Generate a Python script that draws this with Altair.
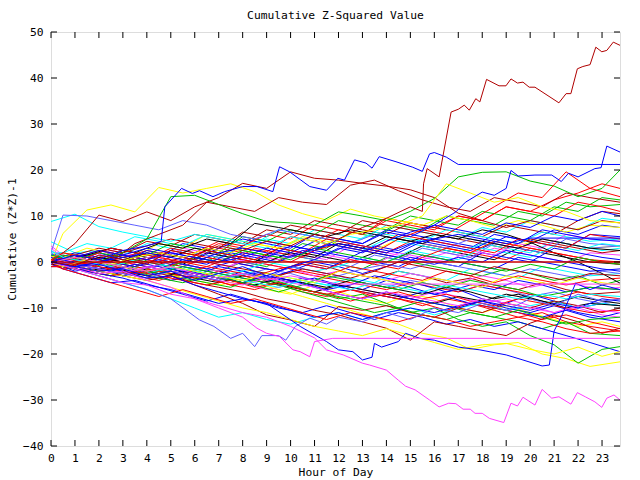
import altair as alt
import pandas as pd

# ---------------- data ----------------
HOURS = list(range(24)) + [23.75]
HOURS_HALF = [0] + [i + 0.5 for i in range(23)] + [23.75]
X_TICKS = list(range(24))
Y_TICKS = list(range(-40, 51, 10))

RED = "#ff0000"
GREEN = "#00c000"
BLUE = "#0000ff"
MAGENTA = "#ff40ff"
CYAN = "#00ffff"
DARKRED = "#b00000"
YELLOW = "#ffff00"
BLACK = "#000000"
LAVENDER = "#6060ff"

# background walks, one value per hour (0..23) plus 23.75
BG_COLORS = [RED, GREEN, BLUE, MAGENTA, CYAN, DARKRED, YELLOW, BLACK, LAVENDER, RED,
             GREEN, BLUE, MAGENTA, CYAN, DARKRED, YELLOW, BLACK, BLUE, RED, GREEN,
             BLUE, RED, CYAN, BLUE, DARKRED, YELLOW, GREEN, LAVENDER, RED, BLUE,
             MAGENTA, CYAN, GREEN, BLACK, RED, BLUE, DARKRED, YELLOW, CYAN, LAVENDER,
             DARKRED, DARKRED, GREEN, RED, BLUE, RED, BLUE, GREEN, CYAN, MAGENTA,
             DARKRED, BLACK, BLACK, RED, BLUE, GREEN, YELLOW, RED, BLUE, BLUE,
             GREEN, RED, MAGENTA, CYAN, LAVENDER, DARKRED, BLUE, RED, YELLOW, YELLOW]

BG_VALUES = [
    [0.5, 0.8, -0.2, 1.5, 0.5, 2.5, 1.5, 4, 3, 2.2, 5.5, 4.5, 7, 6, 9.5, 8.5, 7.5, 10, 9, 12, 11, 13.5, 15, 17, 16],
    [0.5, -0.5, -1.5, 0, -1, 2, 1, 0, 3, 2, 1, 4, 3, 6.5, 5.5, 8, 7, 10, 9, 8, 11, 10, 13, 12, 12.5],
    [-1, -1, -2, -1, -2.5, -1.5, -3, -4, -2, -3, -4.5, -3.5, -5, -6, -4, -5.5, -7, -6, -8, -9, -7, -8.5, -10, -9, -9.5],
    [3.5, 1.5, 0.5, 2.5, 1.5, 0.5, 3, 2, 1, 0, 2.5, 1.5, 0.5, 3.5, 2.5, 1.5, 0.5, 2, 1, 3, 2, 1, 0, 2, 1.5],
    [4.4, 2, 2.5, 1.5, 4, 3, 2, 1, 3.5, 5, 4, 7, 6, 5, 8, 7, 6, 5, 7.5, 6.5, 9, 8, 7, 9.5, 9],
    [1, 1, 0, 2, 1, 0, -1, 1, 0, -1, -2, 0, -1, -2.5, -3.5, -2, -3, -4.5, -3.5, -5, -6, -4.5, -6, -7, -6.5],
    [0, -1, -2, -1, -3, -2, -4, -5, -4, -6, -7, -5, -6.5, -8, -9, -7, -8, -10, -11, -9.5, -11, -12.5, -14, -13, -14],
    [0, 1, 0, -1, 1.5, 0.5, -0.5, 2, 1, 0, 3, 2, 1, 0, 2, 1, 3.5, 2.5, 1.5, 0.5, 3, 2, 1, 0, -0.5],
    [2, -1, 0.5, -0.5, -1.5, 0, -1, -2, -3, -1.5, -2.5, -4, -3, -4.5, -5.5, -4, -5, -6.5, -5, -6, -7.5, -6.5, -8, -9, -8],
    [-1, -1, -2, -1.5, -3, -4, -2.5, -3.5, -5, -6, -4.5, -6, -7, -8.5, -7, -8, -9.5, -8, -9, -10.5, -12, -11, -13, -14, -15],
    [0, 1.5, 0.5, -0.5, 1, 0, -1, -2, 0, -1, 1.5, 0.5, -0.5, -1.5, 1, 0, -1, -2, -3, -1.5, -2.5, -4, -3, -5, -4],
    [1.5, 2, 1, 3, 2, 1, 4, 3, 2, 5, 4, 3, 2, 1, 3.5, 2.5, 5, 4, 3, 6, 5, 4, 3, 6, 5.5],
    [2.5, -1, -2.5, -1.5, -3, -4, -2.5, -3.5, -4.5, -6, -5, -6.5, -5, -6, -7, -8, -6.5, -7.5, -9, -8, -9.5, -11, -10, -11.5, -12],
    [0.5, -0.5, 1, 0, -1, -2, -1, -2.5, -3.5, -2, -3, -4, -5, -3.5, -4.5, -2, -3, -4, -1.5, -2.5, -3.5, -1, -2, -3, -2.5],
    [1, 1.5, 3, 2, 4.5, 3.5, 6, 5, 4, 7, 6, 9, 8, 7, 6, 8.5, 7.5, 6.5, 5.5, 8, 7, 6, 9, 11, 10.5],
    [0, 1, 3, 2, 1, 4, 3, 6, 5, 4, 3, 5.5, 4.5, 3.5, 2.5, 5, 4, 3, 2, 4.5, 3.5, 5, 4, 3, 3.5],
    [-0.5, -1, -2, -3, -1.5, -2.5, -3.5, -4.5, -3, -4, -5.5, -6.5, -5, -6, -7, -8, -9, -7.5, -8.5, -7, -8, -9, -7.5, -8.5, -9],
    [0, -1, 0.5, -0.5, -1.5, -2.5, -1, -2, -3, -4, -5, -3.5, -4.5, -6, -7, -8, -6.5, -7.5, -9, -10, -11, -12, -10.5, -12, -13],
    [1, 0.5, -0.5, 1, 2.5, 1.5, 0.5, 3, 2, 1, 0, 2.5, 4, 3, 2, 4.5, 3.5, 2.5, 1.5, 0.5, 3, 2, 1, 0, -0.5],
    [0, -1, -2, -3, -1, -2, -3.5, -4.5, -5.5, -3.5, -4.5, -6, -7, -8, -9, -10, -8.5, -9.5, -11, -12, -13, -14.5, -13, -15.5, -16],
    [0.5, 2, 1, 0, 2.5, 1.5, 0.5, 3, 5, 4, 3, 6, 5, 4, 7, 6, 5, 4, 3, 5.5, 4.5, 7, 6, 8, 7.5],
    [-0.5, -1.5, -1, -2, -3, -1.5, -2.5, -3.5, -5, -4, -5, -6.5, -7.5, -6, -7, -8, -9, -10.5, -9, -10, -11, -12.5, -11.5, -13, -14.5],
    [0, -1.5, -3, -4.5, -6, -8, -10, -12, -11, -12.5, -13.5, -12, -11, -12.5, -11, -10, -11.5, -10, -9, -10.5, -9.5, -8.5, -10, -9, -9.5],
    [0, -1.5, -3, -4.5, -4, -5.5, -7, -8.5, -7, -8.5, -10, -11, -9.5, -11, -12.5, -11, -12, -13.5, -12.5, -14, -13, -14.5, -16, -17.5, -19.5],
    [0, 1, 0, 2, 3.5, 5, 4, 3, 6.5, 5.5, 8, 7, 6, 9, 8, 7, 6, 5, 4, 3, 5, 4, 3, 2, 2.5],
    [1, 2, 1, 0, -1, -2, -3.5, -2.5, -3.5, -4.5, -6, -7.5, -9, -10.5, -12, -13.5, -15.5, -16.5, -19, -18, -17.5, -20, -21, -22.7, -21.7],
    [0, -1, 0, -1.5, -2.5, -1, -2, -3, -4.5, -3.5, -5, -6.5, -8, -7, -9, -11, -10, -12.5, -14, -13, -16, -18, -22, -19, -18.4],
    [1.5, 1, 0, 2, 1, 0, 2.5, 1.5, 0.5, -0.5, 2, 1, 0, -1, 1.5, 0.5, 3, 2, 1, 4, 3, 2, 5, 4, 3.5],
    [0, -1, -2, -0.5, -1.5, -2.5, -3.5, -2, -3, -4, -2, -3, -4, -5, -6, -4.5, -5.5, -6.5, -5, -6, -7, -8, -6.5, -7.5, -8],
    [-0.5, 1, 0, -1, -2, -0.5, -1.5, -3, -4, -5, -3.5, -4.5, -6, -5, -3, -4, -5, -6.5, -5, -6, -4, -5, -6.5, -5.5, -6],
    [0, 0.5, -0.5, -1.5, 1, 0, -1, -2, 0.5, -0.5, -1.5, -3, -2, -3, -4, -2.5, -3.5, -4.5, -3, -4, -5.5, -4.5, -5, -6, -5.5],
    [2, 2, 4, 3, 5.5, 4.5, 3.5, 6, 5, 4, 7, 6, 5, 4, 6.5, 5.5, 4.5, 7, 6, 5, 4, 6.5, 5.5, 4.5, 5],
    [0, 1, 0, 2.5, 1.5, 4, 3, 2, 5.5, 4.5, 7, 6, 9, 8, 7, 10, 9, 8, 11, 10, 9, 12, 11, 14, 13.5],
    [0, -1, -2, -1, -2.5, -3.5, -2, -3, -4, -5, -3.5, -4.5, -5.5, -4, -5, -6, -7, -5.5, -6.5, -8, -7, -8.5, -10, -9, -9.5],
    [0, 1, 2.5, 1.5, 0.5, 3, 2, 4.5, 3.5, 6, 5, 8, 7, 6, 9, 8, 7, 10, 9, 12, 11, 10, 13, 12, 11],
    [-1, -0.5, 1, 0, -1, 0.5, -0.5, -1.5, 0, -1, -2, -0.5, -1.5, 1, 0, -1, 1.5, 0.5, -0.5, -1.5, 1, 0, -1, -2, -1.5],
    [0, -1, -2, -3, -4, -3, -4.5, -5.5, -6.5, -8, -9, -10.5, -11.5, -13, -14.4, -17, -13, -14, -15, -16, -13.3, -11.5, -13, -15.5, -14.4],
    [0, 6.2, 11.3, 12.4, 10.9, 16.2, 15, 16, 17, 15.3, 12.4, 10.5, 9.1, 11.5, 10, 9, 8, 10, 9, 7.5, 9, 8, 6.5, 8, 7.5],
    [8.8, 10.4, 7.7, 6.5, 5.5, 4.5, 6, 5, 4, 3, 5.5, 4.5, 3.5, 2.5, 5, 4, 3, 2, 4, 3, 2, 4.5, 3.5, 2.5, 3],
    [2, 10.2, 10, 9, 8, 7, 9, 8, 6, 5, 7, 6, 5, 4, 6, 5, 4, 3, 5, 4, 3, 5, 4, 3, 3.5],
    [0, 4, 10.2, 8.8, 10.9, 9, 12, 14, 17.1, 16, 19.6, 18.2, 17.8, 17.1, 16.5, 15.7, 14, 10.6, 9, 7.5, 9, 8, 7, 9, 8.5],
    [0, -1, 1, 0, 4, 6, 8, 13, 12, 11, 14, 13, 12.5, 16.7, 17.8, 15.5, 13.5, 12, 11, 14, 13, 12, 15, 14, 13],
    [0, 1, -0.5, 2, 5, 14.2, 14.5, 12.5, 10.5, 8.8, 8.5, 8, 10.9, 10, 9, 11, 13.8, 18.5, 19.5, 19.6, 17.6, 16.5, 14.2, 16, 20],
    [0, 1, 0, -1, 1, 0, 2, 1, 0, 3, 2, 1, 4, 3, 2, 5, 7, 6, 9, 12, 15, 14, 19.6, 16, 14.2],
    [0, -2, -1, -3, -2, -4, -3, -1, -2, -3.5, -2, 0, -1, -2.5, -1, 1, 0, -1, 2, 1, 0, 3, 2, 1, 0.5],
    [0.5, -0.5, -1.5, 0.5, -0.5, -1.5, -2.5, -1, 1, 0, -1, -2, -3, -1, -2, -3, -4, -2, -3, -4.5, -3, -4, -5, -4, -3.5],
    [0, 1, 2, 0.5, -0.5, -1.5, -2.5, -3.5, -4.5, -3, -4, -5.5, -7, -8, -6.5, -8, -9, -10, -8.5, -10, -11, -9.5, -11, -12, -11],
    [0, -1, -2, -3, -2, -3.5, -4.5, -3, -4, -5, -6.5, -5, -3, -4, -5, -6, -4.5, -5.5, -4, -5, -6, -7.5, -6.5, -5.5, -6],
    [1, -1, -2, -1.5, -2.5, -1, -2, -3, -2, 0, -1, -2, -1, 1, 0, 2.5, 1.5, 0.5, 3, 2, 1, 3.5, 2.5, 4, 3.5],
    [3, 1, 0, -1, -2, -0.5, 1, 0, -1, 1.5, 0.5, 2.5, 1.5, 0.5, -0.5, 2, 1, 0, 2.5, 1.5, 4, 3, 6, 5, 4.5],
    [0, -1, -2, -1, -2, -3, -5, -7, -9, -11.5, -12.6, -14, -9.7, -10.5, -9.5, -11, -12, -10, -11, -9, -10, -8.5, -9.5, -11, -10],
    [0, 0.5, 1.5, 3, 2, 4, 3, 5, 4, 8.4, 7.5, 6.5, 5.5, 7, 6, 5, 4, 6, 5, 4, 3, 5, 4, 3, 2.5],
    [0, -0.5, 1, 0, 2, 1, 3, 2, 1, 0, 2, 1, 4, 3, 5.5, 4.5, 6, 5, 7, 6, 4.3, 2, 0, -2.5, -4.6],
    [0, 1, -0.5, -1.5, -2.5, -1.5, 0, -1, -2, -3, -1.5, -0.5, -1.5, 0.5, -0.5, -1.5, 1, 3, 2, 4.5, 3.5, 2.5, 1.5, 0.5, 0],
    [1, -1, 0, 1.5, 0.5, 2, 1, 0, 1, 3, 2, 4.5, 3.5, 2.5, 1.5, 0.5, -0.5, 1, 0, 2.5, 1.5, 0.5, -0.5, -1.5, -2],
    [0.5, 1.5, 0.5, -0.5, -1.5, -2.5, -1, -2, -3, -4, -5, -6.5, -8, -9.5, -11, -10, -11.5, -12.5, -11, -12, -10.5, -12, -13.5, -12.5, -12],
    [0, -1, -2, -3, -4, -5.5, -7, -8.5, -10, -11, -12.5, -14, -15, -16, -14.5, -16, -17.5, -19, -18, -17.7, -19, -20, -18.5, -20.5, -19.5],
    [-1, -1, -2, -3, -2, -3, -4, -5, -4, -5.5, -4.5, -6, -7, -6, -7.5, -6.5, -8, -7, -8.5, -9.5, -8, -9, -10, -11, -10.5],
    [0, -1.5, -2.5, -3.5, -5, -6, -7.5, -9, -8, -9, -10.5, -12, -11, -12.5, -11, -10, -11, -9.5, -8.5, -9.5, -10.5, -9, -10, -8, -8.5],
    [0, 0.5, -1, -2, -0.5, -1.5, 0.5, -0.5, 2, 1, 0, 2.5, 1.5, 4, 3, 2, 4.5, 3.5, 2.5, 5, 4, 7, 6, 5, 4.5],
    [1.5, 0.5, 2, 1, 0, -1, 1, 0, 2.5, 1.5, 0.5, 3, 2, 1, 0, 2, 1, 0, -1, -2, -0.5, -1.5, 1, 0, -0.5],
    [0.5, 2, 1, 3, 2, 1, 0, 2.5, 1.5, 0.5, 3, 2, 5, 4, 3, 6, 5, 4, 3, 2, 5, 4, 3, 6, 5],
    [0, -0.5, -1.5, -2.5, -1, -2, -3, -4, -5, -3.5, -4.5, -5.5, -7, -8, -6.5, -7.5, -8.5, -9.5, -8, -9, -10, -11, -9.5, -10.5, -11],
    [2.5, 1, 0, -1, 0.5, -0.5, -1.5, -2.5, -3.5, -4.5, -5.5, -4, -5, -6, -4.5, -5.5, -6.5, -5, -6, -7, -8, -7, -8, -7, -7.5],
    [0, -0.5, -1.5, -2.5, -3.5, -2, -3, -4, -2.5, -3.5, -1, -2, -3, -1.5, -0.5, -1.5, 0, -1, -2, -3, -1.5, -2.5, -3.5, -2, -2.5],
    [0, -1, 0, 1.5, 0.5, -0.5, 1, 0, -1, -2, -3, -1.5, -2.5, -3.5, -2, 0, -1, -2, -3, -1, -2, -3, -4, -2.5, -3],
    [0, 1, 2.5, 1.5, 3, 2, 1, 0, 2, 1, 3.5, 2.5, 5, 4, 6.5, 5.5, 8, 7, 6, 8.5, 7.5, 10, 9, 11, 10],
    [0, -1.5, -3, -4.5, -6, -7.5, -6, -7.5, -9, -8, -9.5, -11, -12.5, -11, -12, -13, -11.5, -12.5, -14, -13, -12, -13, -14.5, -15.5, -15],
    [0, 1, 0, -1, -2, -1, -2, -3, -4, -2.5, -3.5, -4.5, -2, -3, -4, -5, -3.5, -4.5, -5.5, -3, -4, -5, -3.5, -4.5, -5],
    [0, -1, 0.5, -0.5, 1, 2, 1, 3, 2, 4, 3, 5, 4, 6, 7, 8, 10, 17, 15, 13, 14, 12, 11, 9, 8.5],
]

# series traced at finer resolution
L1_HOURS = [0, 1, 2, 3, 4, 5, 6.2, 6.8, 7.5, 8.0, 8.5, 8.8, 9.5, 9.8, 10.2, 10.8, 11.5, 12, 13, 14, 15, 16, 17, 18, 19, 20, 21, 22, 23, 23.75]
L1_VALUES = [0, -1.5, -3, -4.5, -6, -8, -12.6, -14, -16.6, -15.5, -18.4, -16, -16, -17, -14, -12.2, -13.5, -12, -13, -11, -12.5, -10, -11, -9, -10.5, -8, -9.5, -7, -8.5, -8]

B3_HOURS = [0, 1, 2, 3, 4, 5, 6, 7, 8, 9, 10.4, 10.9, 11.5, 12.0, 12.6, 13.0, 13.4, 13.5, 13.8, 14.5, 14.8, 15.4, 16, 17, 17.9, 19.0, 19.7, 20.5, 20.8, 21.0, 21.3, 21.9, 22.5, 23, 23.75]
B3_VALUES = [0, -1, -0.5, -2, -3.5, -3, -5, -6.5, -8, -9, -14, -15.5, -17.3, -19.1, -19.5, -21.3, -20.7, -17.7, -18.5, -17.3, -15.5, -16.6, -17, -18.5, -19.1, -20.2, -21.3, -22.6, -22.4, -15, -11.9, -4.6, -6, -5, -6]

M1_HOURS = [0, 1, 2, 3, 4, 5, 6, 7, 8, 9, 10, 11, 11.5, 12.2, 13.0, 13.3, 14.0, 14.5, 14.8, 15.2, 15.8, 16.2, 16.6, 16.9, 17.2, 17.5, 17.7, 18.0, 18.3, 18.9, 19.2, 19.47, 19.7, 20.2, 20.5, 20.9, 21.2, 21.7, 21.97, 22.3, 22.7, 22.99, 23.2, 23.5, 23.75]
M1_VALUES = [0, -1.5, -3, -4.5, -5, -7, -8, -9.5, -11, -12, -14, -16.5, -19.1, -20.2, -22, -22.4, -23.5, -25.7, -27, -27.8, -30, -31.5, -30.7, -30.8, -32, -32, -32.9, -32.9, -34, -34.9, -30.7, -31.3, -29.4, -31.1, -27.7, -29.6, -29.3, -30.9, -28.4, -29.3, -30.4, -31.6, -29.6, -28.9, -30]

M2_HOURS = [0, 1, 2, 3, 4, 5, 6, 7, 8, 8.6, 9.0, 9.54, 10.1, 10.4, 10.8, 11.0, 11.76, 23.75]
M2_VALUES = [0, -1, -2.5, -2, -4, -5.5, -8, -10, -12, -14.4, -15.5, -16.2, -19.1, -19.5, -20.6, -17.3, -16.6, -16.6]

B2_HOURS = [0, 1, 2, 3, 4, 5, 6, 7, 8, 9, 10, 11, 12, 13, 14, 15, 16, 16.9, 17.3, 18.0, 18.5, 19.0, 19.2, 19.5, 20.2, 20.9, 21.3, 21.6, 22.0, 22.7, 22.96, 23.2, 23.75]
B2_VALUES = [0, -1, -2, -1.5, -3, -2, -4, -2.5, -1, -3, -1, 0.5, 3, 2, 4.5, 6.5, 8, 10.9, 13, 15.2, 14.5, 16, 19.9, 18.7, 18.9, 18.9, 17.5, 19.3, 18.5, 20.3, 20.5, 25.2, 23.9]

B1_HOURS = [0, 1, 2, 3, 4, 4.6, 4.75, 5.45, 5.9, 6.2, 6.76, 7.25, 8.0, 8.6, 9.26, 9.54, 9.96, 10.8, 11.5, 11.97, 12.25, 12.67, 13.15, 13.4, 13.7, 14.4, 15.1, 15.5, 15.8, 16.0, 16.5, 17.0, 23.75]
B1_VALUES = [0, 1.5, 0.5, 2.5, 3.5, 4.5, 12, 16, 14.9, 15.5, 14.2, 15.3, 16.4, 16.4, 15.3, 20.7, 19.6, 16.4, 15.6, 18.2, 17.8, 22.2, 21.5, 20.4, 22.9, 21.8, 20.6, 19.7, 23.5, 23.8, 22.8, 21.2, 21.2]

DR_HOURS = [0, 1, 2, 3, 4, 5, 6, 7, 8, 9, 10, 11, 12, 13, 14, 15, 15.5, 15.55, 15.7, 16.2, 16.7, 17.0, 17.25, 17.46, 17.73, 17.9, 18.18, 18.7, 18.99, 19.2, 19.47, 19.7, 19.96, 20.2, 21.2, 21.5, 21.7, 21.97, 22.2, 22.5, 22.74, 22.99, 23.2, 23.47, 23.75]
DR_VALUES = [0, -0.8, 1.5, 0.5, -0.5, 2.5, 1.5, 3.5, 2.5, 4.5, 3.5, 6, 5, 7.5, 9.5, 12, 11, 17, 20.3, 18.5, 32.6, 33.2, 34.1, 33, 35.5, 34.8, 39.7, 38.3, 38.3, 39.8, 38.9, 39.1, 38, 38, 34.6, 36.6, 36.6, 42, 42.5, 42.9, 46.7, 45.7, 46, 47.8, 47.1]

F1_HOURS = [0, 23.75]
F1_VALUES = [0, 0]
F2_HOURS = [0, 1, 2, 23.75]
F2_VALUES = [0.5, -0.5, 0, 0]
F3_HOURS = [0, 1, 2, 3, 4, 5, 6, 7, 8, 9, 10, 11, 12, 23.75]
F3_VALUES = [0, 1, 0, -1, -2, -1, -2.5, -3.5, -2.5, -4, -3, -4, -4.8, -4.8]
F4_HOURS = list(range(21)) + [23.75]
F4_VALUES = [0, -1, 0, 1, 2, 1, 0, 2, 3, 2, 1, 3, 4, 3, 2, 4, 5, 6, 5, 4, 5.2, 5.2]

DETAILED = [
    (LAVENDER, L1_HOURS, L1_VALUES),
    (BLUE, B3_HOURS, B3_VALUES),
    (MAGENTA, M2_HOURS, M2_VALUES),
    (MAGENTA, M1_HOURS, M1_VALUES),
    (BLUE, F4_HOURS, F4_VALUES),
    (MAGENTA, F3_HOURS, F3_VALUES),
    (RED, F2_HOURS, F2_VALUES),
    (DARKRED, F1_HOURS, F1_VALUES),
    (BLUE, B2_HOURS, B2_VALUES),
    (BLUE, B1_HOURS, B1_VALUES),
    (DARKRED, DR_HOURS, DR_VALUES),
]

# ---------------- table ----------------
rows = []
names = []
colors = []
k = 0
for i, (col, vals) in enumerate(zip(BG_COLORS, BG_VALUES)):
    name = f"s{k:03d}"
    names.append(name); colors.append(col)
    hrs = HOURS if i % 2 == 0 else HOURS_HALF
    for h, v in zip(hrs, vals):
        rows.append({"series": name, "hour": h, "value": v})
    k += 1
for col, hrs, vals in DETAILED:
    name = f"s{k:03d}"
    names.append(name); colors.append(col)
    for h, v in zip(hrs, vals):
        rows.append({"series": name, "hour": h, "value": v})
    k += 1
df = pd.DataFrame(rows)

# ---------------- chart ----------------
W, H = 569, 414
FONT = "DejaVu Sans Mono"
FS = 11.3

x_scale = alt.Scale(domain=[0, 23.75], nice=False, zero=False)
y_scale = alt.Scale(domain=[-40, 50], nice=False, zero=False)

x_axis = alt.Axis(values=X_TICKS, title="Hour of Day", ticks=False, domain=False, grid=False,
                  labelFont=FONT, labelFontSize=FS, labelColor="black", labelPadding=6,
                  labelFlush=False, labelOverlap=False,
                  titleFont=FONT, titleFontSize=FS, titleFontWeight="normal", titleColor="black",
                  titlePadding=3)
y_axis = alt.Axis(values=Y_TICKS, title="Cumulative (Z*Z)-1", ticks=False, domain=False, grid=False,
                  labelFont=FONT, labelFontSize=FS, labelColor="black", labelPadding=8,
                  labelFlush=False, labelOverlap=False,
                  titleFont=FONT, titleFontSize=FS, titleFontWeight="normal", titleColor="black",
                  titlePadding=5)

lines = alt.Chart(df).mark_line(strokeWidth=1, clip=True, interpolate="linear").encode(
    x=alt.X("hour:Q", scale=x_scale, axis=x_axis),
    y=alt.Y("value:Q", scale=y_scale, axis=y_axis),
    color=alt.Color("series:N", scale=alt.Scale(domain=names, range=colors), legend=None),
    order=alt.Order("hour:Q"),
)

xt = pd.DataFrame({"hour": X_TICKS})
yt = pd.DataFrame({"value": Y_TICKS})

tick_bottom = alt.Chart(xt).mark_rule(color="black", strokeWidth=1).encode(
    x=alt.X("hour:Q", scale=x_scale, axis=x_axis), y=alt.value(H), y2=alt.value(H - 6))
tick_top = alt.Chart(xt).mark_rule(color="black", strokeWidth=1).encode(
    x=alt.X("hour:Q", scale=x_scale, axis=x_axis), y=alt.value(0), y2=alt.value(6))
tick_left = alt.Chart(yt).mark_rule(color="black", strokeWidth=1).encode(
    y=alt.Y("value:Q", scale=y_scale, axis=y_axis), x=alt.value(0), x2=alt.value(6))
tick_right = alt.Chart(yt).mark_rule(color="black", strokeWidth=1).encode(
    y=alt.Y("value:Q", scale=y_scale, axis=y_axis), x=alt.value(W), x2=alt.value(W - 6))

chart = alt.layer(lines, tick_bottom, tick_top, tick_left, tick_right).properties(
    width=W, height=H,
    title=alt.TitleParams("Cumulative Z-Squared Value", font=FONT, fontSize=FS,
                          fontWeight="normal", color="black", anchor="middle", offset=5),
    autosize=alt.AutoSizeParams(type="none"),
    padding={"left": 51, "top": 32, "right": 20, "bottom": 34},
).configure_view(stroke="black", strokeWidth=1).configure(background="white")

chart.save("out.html", embed_options={"renderer": "svg", "actions": False})
